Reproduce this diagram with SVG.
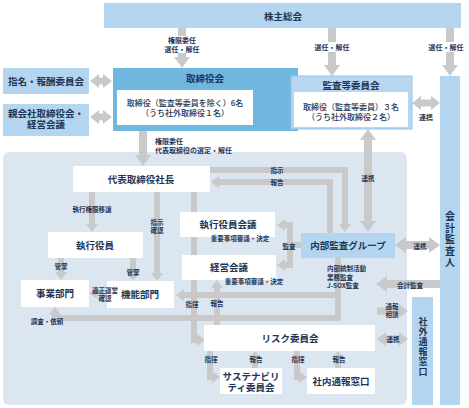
<svg xmlns="http://www.w3.org/2000/svg" width="469" height="408" viewBox="0 0 469 408">
<style>
text{font-family:"Noto Sans CJK JP","Noto Sans CJK SC",sans-serif;fill:#1e3553;text-anchor:middle;dominant-baseline:central}
.h{font-size:9.5px;font-weight:bold}
.m{font-size:8px;font-weight:500}
.s{font-size:6.5px;font-weight:bold}
.t{font-size:7px;font-weight:bold}
.vt{writing-mode:vertical-rl;font-weight:bold}
.L{fill:none;stroke:#c9c9c9;stroke-width:8;stroke-linejoin:miter}
.S{fill:none;stroke:#c9c9c9;stroke-width:6;stroke-linejoin:miter}
.lb{fill:#b4d5ef}
.wb{fill:#ffffff}
</style>
<defs>
<marker id="h" viewBox="0 -8 11 16" markerWidth="11" markerHeight="16" refX="0" refY="0" orient="auto-start-reverse" markerUnits="userSpaceOnUse"><path d="M0,-8 L11,0 L0,8z" fill="#c9c9c9"/></marker>
<marker id="m" viewBox="0 -7 9 14" markerWidth="9" markerHeight="14" refX="0" refY="0" orient="auto-start-reverse" markerUnits="userSpaceOnUse"><path d="M0,-7 L9,0 L0,7z" fill="#c9c9c9"/></marker>
<marker id="s" viewBox="0 -6 8 12" markerWidth="8" markerHeight="12" refX="0" refY="0" orient="auto-start-reverse" markerUnits="userSpaceOnUse"><path d="M0,-6 L8,0 L0,6z" fill="#c9c9c9"/></marker>
</defs>

<rect id="panel" x="3" y="152" width="404" height="253" rx="6" fill="#dce6f1"/>

<g id="connectors">
<path class="L" d="M182,28 V57" marker-end="url(#h)"/>
<path class="L" d="M332,28 V65" marker-end="url(#h)"/>
<path class="L" d="M450,28 V65" marker-end="url(#h)"/>
<path class="L" d="M291,103 H265" marker-end="url(#h)"/>
<path class="L" style="stroke-width:7" d="M421,103 H431" marker-start="url(#m)" marker-end="url(#m)"/>
<path class="L" style="stroke-width:7" d="M99,81 H103" marker-start="url(#m)" marker-end="url(#m)"/>
<path class="L" style="stroke-width:7" d="M99,117 H103" marker-start="url(#m)" marker-end="url(#m)"/>
<path class="L" d="M143,131 V155" marker-end="url(#h)"/>
<path class="L" d="M368,140 V221" marker-start="url(#h)" marker-end="url(#h)"/>
<path class="L" d="M406,245 H429" marker-start="url(#h)" marker-end="url(#h)"/>
<path class="L" d="M440,284 H387" marker-end="url(#h)"/>
<path class="L" style="stroke-width:7" d="M377,311 H399" marker-end="url(#m)"/>
<path class="L" style="stroke-width:7" d="M386,339 H399" marker-start="url(#m)" marker-end="url(#m)"/>

<path class="S" d="M210,170 H345 V224" marker-end="url(#s)"/>
<path class="S" d="M330,233 V182 H219" marker-end="url(#s)"/>
<path class="S" d="M92,192 V224" marker-end="url(#s)"/>
<path class="S" d="M157,192 V273" marker-end="url(#s)"/>
<path class="S" d="M194,192 V340 H197" marker-end="url(#s)"/>
<path class="S" d="M217,325 V288" marker-end="url(#s)"/>
<path class="S" d="M301,245 H290 V225 H285" marker-end="url(#s)"/>
<path class="S" d="M290,245 V265 H285" marker-end="url(#s)"/>
<path class="S" d="M338,258 V318 H55 V315" marker-end="url(#s)"/>
<path class="S" d="M338,295 H184" marker-end="url(#s)"/>
<path class="S" d="M61,258 V272" marker-end="url(#s)"/>
<path class="S" d="M133,258 V273" marker-end="url(#s)"/>
<path class="S" d="M107,293 H97" marker-end="url(#s)"/>
<path class="S" d="M210,351 V377 H212" marker-end="url(#s)"/>
<path class="S" d="M255,368 V359" marker-end="url(#s)"/>
<path class="S" d="M297,351 V377 H299" marker-end="url(#s)"/>
<path class="S" d="M338,368 V359" marker-end="url(#s)"/>

<rect x="160" y="36" width="44" height="17" fill="#fff"/>
<rect x="312" y="42" width="40" height="10" fill="#fff"/>
<rect x="428" y="42" width="36" height="10" fill="#fff"/>
<text class="t" x="182" y="40">権限委任<tspan x="182" dy="9">選任・解任</tspan></text>
<text class="t" x="332" y="47">選任・解任</text>
<text class="t" x="446" y="47">選任・解任</text>
<text class="t" x="272" y="116">監査・監督</text>
<text class="t" x="426" y="117">連携</text>
<text class="t" x="155" y="141" style="text-anchor:start">権限委任<tspan x="155" dy="9">代表取締役の選定・解任</tspan></text>
<text class="s" x="277" y="170">指示</text>
<text class="s" x="277" y="182">報告</text>
<text class="s" x="368" y="178">連携</text>
<text class="s" x="92" y="209">執行権限移譲</text>
<text class="s" x="157" y="222">指示<tspan x="157" dy="8">確認</tspan></text>
<text class="s" x="289" y="246">監査</text>
<text class="s" x="420" y="246">連携</text>
<text class="s" x="61" y="266">管掌</text>
<text class="s" x="133" y="272">管掌</text>
<text class="s" x="327" y="268" style="text-anchor:start">内部統制活動<tspan x="327" dy="8.5">業務監査</tspan><tspan x="327" dy="8.5">J-SOX監査</tspan></text>
<text class="s" x="410" y="285">会計監査</text>
<text class="s" x="392" y="306">通報<tspan x="392" dy="8">相談</tspan></text>
<text class="s" x="393" y="339">連携</text>
<text class="s" x="192" y="304">指揮</text>
<text class="s" x="217" y="303">報告</text>
<text class="s" x="47" y="321">調査・依頼</text>
<text class="s" x="211" y="359">指揮</text>
<text class="s" x="256" y="359">報告</text>
<text class="s" x="298" y="359">指揮</text>
<text class="s" x="339" y="359">報告</text>
</g>

<g id="n-kabunushi"><rect class="lb" x="104" y="3" width="357" height="25"/><text class="h" x="283" y="16">株主総会</text></g>
<g id="n-torishimariyakukai"><rect x="113" y="68" width="185" height="63" fill="#6fb7de"/><rect class="wb" x="117" y="90" width="136" height="35"/><text class="h" x="205" y="78">取締役会</text><text class="m" x="185" y="102">取締役（監査等委員を除く）6名<tspan x="185" dy="10">（うち社外取締役１名）</tspan></text></g>
<g id="n-kansatoiinkai"><rect x="291" y="76" width="121" height="53" fill="#b7d7f1" stroke="#93c3e8" stroke-width="1"/><rect class="wb" x="294" y="92" width="114" height="35"/><text class="h" x="351" y="85">監査等委員会</text><text class="m" x="351" y="106">取締役（監査等委員）３名<tspan x="351" dy="10">（うち社外取締役２名）</tspan></text></g>
<g id="n-shimei"><rect class="lb" x="3" y="68" width="86" height="26"/><text class="h" x="46" y="81">指名・報酬委員会</text></g>
<g id="n-oyagaisha"><rect class="lb" x="3" y="104" width="86" height="32"/><text class="h" x="46" y="113">親会社取締役会・<tspan x="46" dy="11">経営会議</tspan></text></g>
<g id="n-kaikei"><rect class="lb" x="440" y="76" width="20" height="329"/><text class="vt" x="450" y="240" style="font-size:10px;letter-spacing:1.5px">会計監査人</text></g>
<g id="n-shagai"><rect class="lb" x="412" y="297" width="21" height="108"/><text class="vt" x="423" y="347" style="font-size:9px;letter-spacing:1px">社外通報窓口</text></g>
<g id="n-shacho"><rect class="wb" x="73" y="166" width="137" height="26"/><text class="h" x="141" y="179">代表取締役社長</text></g>
<g id="n-shikkoyakuin"><rect class="wb" x="48" y="232" width="95" height="26"/><text class="h" x="95" y="245">執行役員</text></g>
<g id="n-jigyo"><rect class="wb" x="21" y="280" width="68" height="27"/><text class="h" x="55" y="293">事業部門</text></g>
<g id="n-kino"><rect class="wb" x="107" y="281" width="67" height="27"/><text class="h" x="140" y="294">機能部門</text></g>
<g id="n-shikkokaigi"><rect class="wb" x="180" y="212" width="95" height="25"/><text class="h" x="228" y="224">執行役員会議</text></g>
<g id="n-keieikaigi"><rect class="wb" x="182" y="255" width="94" height="25"/><text class="h" x="229" y="267">経営会議</text></g>
<g id="n-naibukansa"><rect class="lb" x="301" y="233" width="94" height="25"/><text class="h" x="348" y="245">内部監査グループ</text></g>
<g id="n-risk"><rect class="wb" x="204" y="325" width="171" height="26"/><text class="h" x="290" y="338">リスク委員会</text></g>
<g id="n-sustain"><rect class="wb" x="220" y="368" width="62" height="26"/><text class="h" x="251" y="376">サステナビリ<tspan x="251" dy="11">ティ委員会</tspan></text></g>
<g id="n-shanai"><rect class="wb" x="307" y="368" width="68" height="26"/><text class="h" x="341" y="381">社内通報窓口</text></g>

<g id="labels-over">
<text class="s" x="240" y="238">重要事項審議・決定</text>
<text class="s" x="254" y="281">重要事項審議・決定</text>
<text class="s" x="105" y="290">適正運営<tspan x="105" dy="8">確認</tspan></text>
</g>
</svg>
